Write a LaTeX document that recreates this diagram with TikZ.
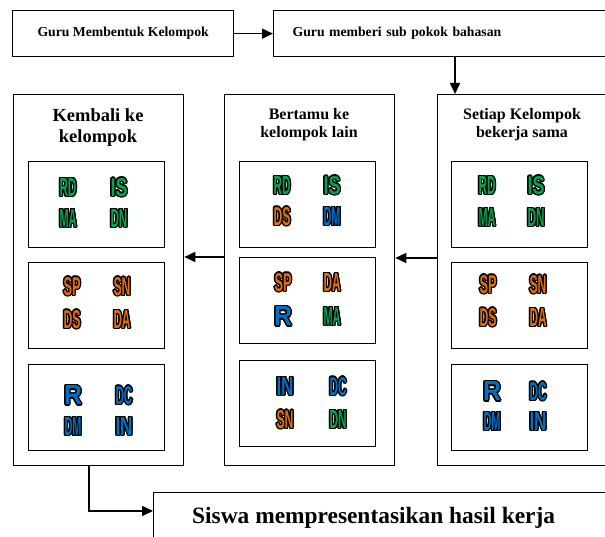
\documentclass[tikz,border=0pt]{standalone}
\usepackage{fontspec}
\setmainfont{Liberation Serif}
\setsansfont{Liberation Sans}
\usepackage{contour}
\contourlength{1.3pt}
\usetikzlibrary{arrows.meta}
\definecolor{cg}{RGB}{0,166,80}
\definecolor{co}{RGB}{228,108,10}
\definecolor{cb}{RGB}{0,112,192}
\newcommand\lbl[2]{\textcolor{#1}{\contour{black}{\resizebox{17pt}{18pt}{\sffamily\bfseries #2}}}}
\newcommand\lblR[1]{\textcolor{#1}{\contour{black}{\resizebox{18pt}{19pt}{\sffamily\bfseries R}}}}
\begin{document}
\begin{tikzpicture}[x=1pt,y=-1pt,
  box/.style={draw,line width=1.3pt,anchor=north west,inner sep=0pt},
  arr/.style={line width=1.6pt,-{Triangle[length=11pt,width=10pt]}},
  topfont/.style={font=\bfseries\fontsize{13.7}{16}\selectfont},
  ttl/.style={align=center,font=\bfseries\fontsize{16}{18}\selectfont},
  ttlbig/.style={align=center,font=\bfseries\fontsize{18.5}{21}\selectfont},
  inner/.style={box,minimum width=136pt,minimum height=86pt},
  big/.style={box,minimum height=371pt},
  lab/.style={inner sep=0pt}]
\clip (0,0) rectangle (605,537);
% top boxes
\node[box,topfont,minimum width=221pt,minimum height=46pt] (b1) at (12,10) {Guru Membentuk Kelompok};
\node[box,topfont,minimum height=46pt,text width=400pt,align=left,inner xsep=19pt] (b2) at (273,10) {Guru memberi sub pokok bahasan};
\draw[arr] (b1.east) -- (b2.west);
% big boxes
\node[big,minimum width=170pt] (gL) at (13,94) {};
\node[big,minimum width=170pt] (gM) at (224,94) {};
\node[big,minimum width=200pt] (gR) at (437,94) {};
\draw[arr] ([xshift=182pt]b2.south west) -- ([xshift=18pt]gR.north west);
% titles
\node[ttlbig] (tL) at (98,128) {Kembali ke\\kelompok};
\node[ttl] (tM) at (309,125) {Bertamu ke\\kelompok lain};
\node[ttl] (tR) at (522,125) {Setiap Kelompok\\bekerja sama};
% inner boxes
\node[inner] (L1) at (28,161) {};
\node[inner] (L2) at (28,262) {};
\node[inner] (L3) at (28,364) {};
\node[inner] (M1) at (239,161) {};
\node[inner] (M2) at (239,257) {};
\node[inner] (M3) at (239,360) {};
\node[inner] (R1) at (451,161) {};
\node[inner] (R2) at (451,262) {};
\node[inner] (R3) at (451,364) {};
% labels left
\node[lab] (L1a) at (68,188) {\lbl{cg}{RD}};
\node[lab] (L1b) at (119,188) {\lbl{cg}{IS}};
\node[lab] (L1c) at (68,219) {\lbl{cg}{MA}};
\node[lab] (L1d) at (119,219) {\lbl{cg}{DN}};
\node[lab] (L2a) at (72,287) {\lbl{co}{SP}};
\node[lab] (L2b) at (122,287) {\lbl{co}{SN}};
\node[lab] (L2c) at (72,320) {\lbl{co}{DS}};
\node[lab] (L2d) at (122,320) {\lbl{co}{DA}};
\node[lab] (L3a) at (73,396) {\lblR{cb}};
\node[lab] (L3b) at (124,396) {\lbl{cb}{DC}};
\node[lab] (L3c) at (73,427) {\lbl{cb}{DM}};
\node[lab] (L3d) at (124,427) {\lbl{cb}{IN}};
% labels middle
\node[lab] (M1a) at (282,186) {\lbl{cg}{RD}};
\node[lab] (M1b) at (332,186) {\lbl{cg}{IS}};
\node[lab] (M1c) at (282,217) {\lbl{co}{DS}};
\node[lab] (M1d) at (332,217) {\lbl{cb}{DM}};
\node[lab] (M2a) at (283,283) {\lbl{co}{SP}};
\node[lab] (M2b) at (332,283) {\lbl{co}{DA}};
\node[lab] (M2c) at (283,317) {\lblR{cb}};
\node[lab] (M2d) at (332,317) {\lbl{cg}{MA}};
\node[lab] (M3a) at (285,387) {\lbl{cb}{IN}};
\node[lab] (M3b) at (338,387) {\lbl{cb}{DC}};
\node[lab] (M3c) at (285,420) {\lbl{co}{SN}};
\node[lab] (M3d) at (338,420) {\lbl{cg}{DN}};
% labels right
\node[lab] (R1a) at (487,186) {\lbl{cg}{RD}};
\node[lab] (R1b) at (536,186) {\lbl{cg}{IS}};
\node[lab] (R1c) at (487,218) {\lbl{cg}{MA}};
\node[lab] (R1d) at (536,218) {\lbl{cg}{DN}};
\node[lab] (R2a) at (488,285) {\lbl{co}{SP}};
\node[lab] (R2b) at (538,285) {\lbl{co}{SN}};
\node[lab] (R2c) at (488,318) {\lbl{co}{DS}};
\node[lab] (R2d) at (538,318) {\lbl{co}{DA}};
\node[lab] (R3a) at (492,392) {\lblR{cb}};
\node[lab] (R3b) at (538,392) {\lbl{cb}{DC}};
\node[lab] (R3c) at (492,422) {\lbl{cb}{DM}};
\node[lab] (R3d) at (538,422) {\lbl{cb}{IN}};
% horizontal arrows
\coordinate (ya) at (0,258);
\coordinate (yb) at (0,257);
\draw[arr] (gR.west |- ya) -- (gM.east |- ya);
\draw[arr] (gM.west |- yb) -- (gL.east |- yb);
% bottom box
\node[box,minimum width=500pt,minimum height=70pt] (bs) at (153,492) {};
\node[anchor=west,inner sep=0pt,font=\bfseries\fontsize{23.4}{26}\selectfont] (bst) at ([xshift=39pt,yshift=-26pt]bs.north west) {Siswa mempresentasikan hasil kerja};
\draw[arr] ([xshift=76pt]gL.south west) |- ([yshift=-19pt]bs.north west);
\end{tikzpicture}
\end{document}
